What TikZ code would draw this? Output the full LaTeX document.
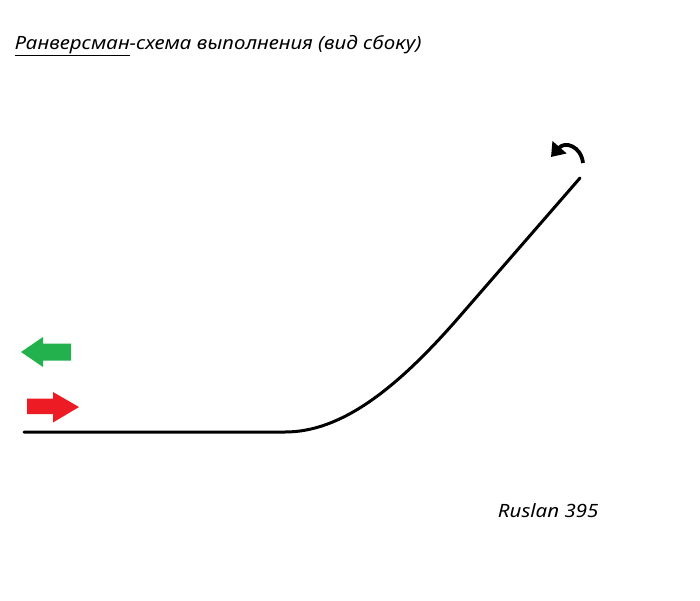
\documentclass[tikz,border=0pt]{standalone}
\usepackage{fontspec}
\setmainfont{Noto Sans}[FakeStretch=1.12]
\usetikzlibrary{arrows.meta}

\tikzset{
  flatarrow/.style={draw opacity=0,fill opacity=1},
  pathline/.style={line width=3,line cap=round},
  caption/.style={anchor=base west,inner sep=0.75pt,font=\fontsize{18.3}{21}\selectfont\itshape}
}

\begin{document}
\begin{tikzpicture}[x=1pt,y=1pt,yscale=-1,xscale=1]
		\useasboundingbox (0,0) rectangle (700,600);

		% Text Node
		\node [caption] (title) at (14,49.5) {\underline{Ранверсман}-схема выполнения (вид сбоку)};

		%Shape: Arrow [id:green]
		\draw  [flatarrow,fill={rgb, 255:red, 34; green, 177; blue, 76 }] (71,343.5) -- (43,343.5) -- (43,337) -- (21,352) -- (43,367) -- (43,360.5) -- (71,360.5) -- cycle ;
		%Shape: Arrow [id:red]
		\draw  [flatarrow,fill={rgb, 255:red, 237; green, 28; blue, 36 }] (27,398.5) -- (53,398.5) -- (53,392) -- (79,407) -- (53,422.5) -- (53,414) -- (27,414) -- cycle ;

		%Curve: path of the figure
		\coordinate (start) at (24,432);
		\coordinate (bend) at (285,432);
		\coordinate (ramp) at (460,316);
		\coordinate (top) at (580,178);
		\draw  [pathline] (start) -- (bend) .. controls (340,432) and (395,391) .. (ramp) -- (top) ;

		%Curve: turn over
		\coordinate (turn) at (583,163);
		\coordinate (turnend) at (551,157);
		\draw  [line width=3.8,-{Triangle[length=13pt,width=18pt]}] (turn) .. controls (581,146) and (565,141) .. (turnend) ;

		% Text Node
		\node [caption] (sign) at (497,517.5) {Ruslan 395};

\end{tikzpicture}
\end{document}
